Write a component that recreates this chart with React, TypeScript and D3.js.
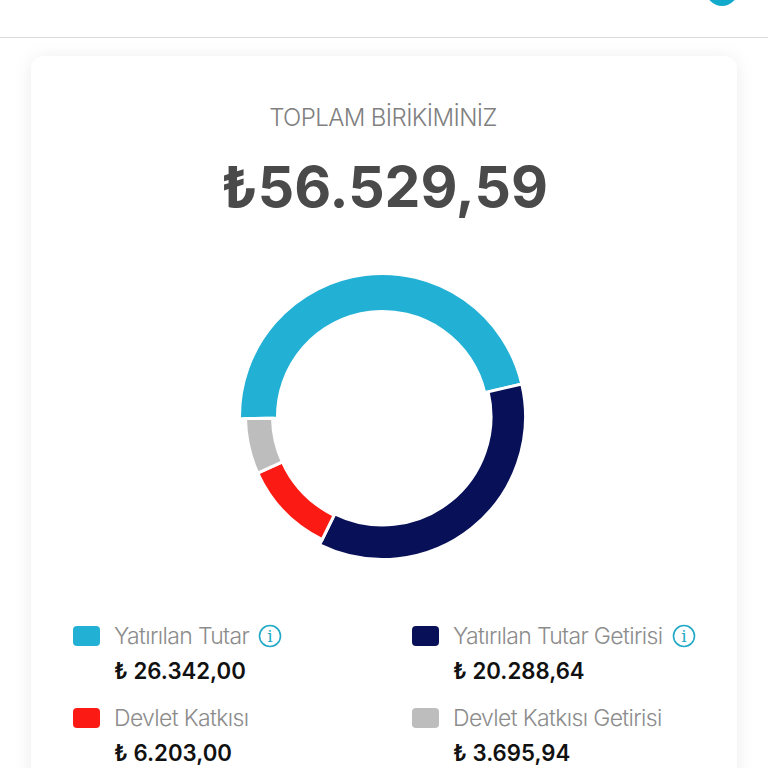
import React from 'react';
import * as d3 from 'd3';

const categories = ['Yatırılan Tutar', 'Yatırılan Tutar Getirisi', 'Devlet Katkısı', 'Devlet Katkısı Getirisi'];
const values = [26342.0, 20288.64, 6203.0, 3695.94];
const valueLabels = ['₺ 26.342,00', '₺ 20.288,64', '₺ 6.203,00', '₺ 3.695,94'];
const colors = ['#22b0d5', '#081158', '#fb1b14', '#bdbdbd'];
const hasInfo = [true, true, false, false];
const totalLabel = '₺56.529,59';
const titleLabel = 'TOPLAM BİRİKİMİNİZ';

const FONT = 'Inter, Roboto, "Noto Sans", sans-serif';

export default function App() {
  const cx = 382.5;
  const cy = 416.5;

  const rotate = -0.015;
  const pie = d3
    .pie<number>()
    .sort(null)
    .startAngle(-Math.PI / 2 + rotate)
    .endAngle((3 * Math.PI) / 2 + rotate);
  const arcs = pie(values);

  // each slice has its own ring width in the original
  const innerRadii = [105, 108.5, 110, 110];
  const outerRadii = [143, 143, 137, 137];
  const arc = d3.arc<d3.PieArcDatum<number>>();

  const legendX = [73, 412];
  const legendY = [636, 718];
  const infoX = [270, 684];

  return (
    <svg
      width={768}
      height={768}
      style={{ position: 'absolute', left: 0, top: 0, background: '#ffffff' }}
      fontFamily={FONT}
    >
      <defs>
        <filter id="card-shadow" x="-10%" y="-10%" width="120%" height="120%">
          <feDropShadow dx="0" dy="2" stdDeviation="9" floodColor="#000000" floodOpacity="0.08" />
        </filter>
      </defs>

      <rect x={0} y={37} width={768} height={1} fill="#d9d9d9" />
      <circle cx={722} cy={-10} r={16} fill="#12aacb" />
      <rect x={31} y={56} width={706} height={760} rx={14} fill="#fff" filter="url(#card-shadow)" />

      <text x={383} y={126} textAnchor="middle" fontSize={24} fontWeight={300} fill="#808080" letterSpacing={-0.6}>
        {titleLabel}
      </text>
      <text x={384.5} y={207} textAnchor="middle" fontSize={57} fontWeight={700} fill="#4a4a4a">
        {totalLabel}
      </text>

      <g transform={`translate(${cx},${cy})`}>
        {arcs.map((d, i) => (
          <path
            key={categories[i]}
            d={arc({ ...d, innerRadius: innerRadii[i], outerRadius: outerRadii[i] } as any) || ''}
            fill={colors[i]}
            stroke="#fff"
            strokeWidth={3}
          />
        ))}
      </g>

      {categories.map((name, i) => {
        const x = legendX[i % 2];
        const y = legendY[Math.floor(i / 2)];
        const textX = x + 41;
        return (
          <g key={name}>
            <rect x={x} y={y - 10} width={27} height={20} rx={4} fill={colors[i]} />
            <text x={textX} y={y + 8} fontSize={23} fontWeight={300} fill="#8c8c8c" letterSpacing={-0.65}>
              {name}
            </text>
            <text x={textX} y={y + 43} fontSize={22.2} fontWeight={600} fill="#111">
              {valueLabels[i]}
            </text>
            {hasInfo[i] && (
              <g transform={`translate(${infoX[i]},${y})`} fill="none" stroke="#22a9c6">
                <circle r={10.5} strokeWidth={1.6} />
                <text y={6} textAnchor="middle" fontSize={17} fontFamily="'DejaVu Serif', serif" fontWeight={400} fill="#22a9c6" stroke="none">
                  i
                </text>
              </g>
            )}
          </g>
        );
      })}
    </svg>
  );
}
